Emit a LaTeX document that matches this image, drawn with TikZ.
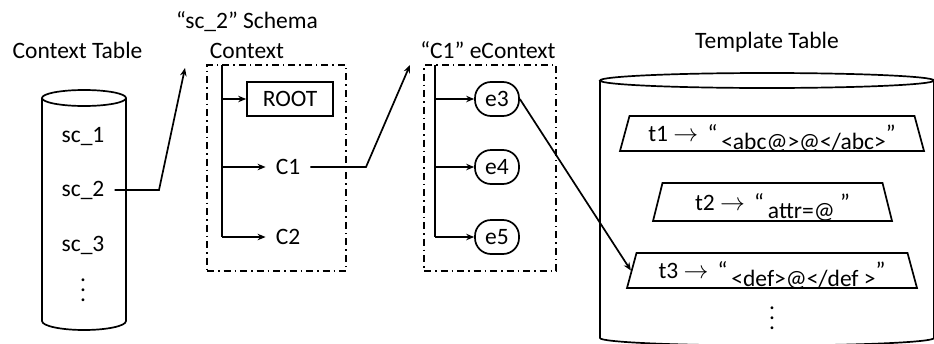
\documentclass[tikz,border=0pt]{standalone}
\usepackage{fontspec}
\setmainfont{Carlito}
\usetikzlibrary{arrows.meta,shapes.geometric}
\tikzset{
  >={Stealth[length=8pt,width=6.5pt]},
  every node/.style={font=\fontsize{23.5}{30}\selectfont},
  conn/.style={line width=1.7pt},
  tbl/.style={line width=1.7pt},
  frame/.style={draw,line width=1.4pt,dash pattern=on 7pt off 4pt on 1.5pt off 4pt,inner sep=0pt},
  item/.style={inner xsep=10pt,inner ysep=2pt},
  vdot/.style={align=center,font=\fontsize{23.5}{10}\selectfont},
  rootbox/.style={draw,line width=1.7pt,minimum width=86pt,minimum height=34pt,inner sep=0pt},
  ent/.style={draw,line width=1.7pt,rounded corners=16pt,minimum width=44pt,minimum height=34pt,inner sep=0pt},
  tpl/.style={draw,line width=1.7pt,trapezium,trapezium angle=61,trapezium stretches body,inner xsep=2pt,inner ysep=0pt},
}
\begin{document}
\begin{tikzpicture}[x=1pt,y=1pt]
  \useasboundingbox (0,0) rectangle (934,-343);
  % context table
  \draw[tbl] (84,-98) ellipse[x radius=42,y radius=8];
  \draw[tbl] (42,-98) -- (42,-321) arc[start angle=180,end angle=360,x radius=42,y radius=9] -- (126,-98);
  \node (ctxtitle) at (77.5,-50) {Context Table};
  \node[item] (sc1) at (83,-137) {sc\_1};
  \node[item] (sc2) at (83,-190) {sc\_2};
  \node[item] (sc3) at (83,-245) {sc\_3};
  \node[vdot] (cdots) at (83,-290) {.\\.\\.};
  % schema context
  \node[align=center] (schtitle) at (247,-35) {“sc\_2” Schema\\Context};
  \node[frame,minimum width=139pt,minimum height=206pt] (schbox) at (276.5,-168) {};
  \coordinate (strunk) at (222,-65);
  \node[rootbox] (root) at (290,-99) {ROOT};
  \node[item] (c1) at (288,-167) {C1};
  \node[item] (c2) at (288,-237) {C2};
  \draw[conn] (strunk) -- (strunk |- c2);
  \foreach \n in {root,c1,c2}{\draw[conn,->] (strunk |- \n) -- (\n.west);}
  \coordinate (sc2bend) at (159,-190);
  \coordinate (schtip) at (185,-68);
  \draw[conn,->] (sc2.east) -- (sc2bend) -- (schtip);
  % econtext
  \node (ectitle) at (488,-50) {“C1” eContext};
  \node[frame,minimum width=132pt,minimum height=206pt] (ecbox) at (490,-168) {};
  \coordinate (etrunk) at (435,-65);
  \foreach \e/\y in {e3/99,e4/167,e5/237}{\node[ent] (\e) at (497,-\y) {\e};}
  \draw[conn] (etrunk) -- (etrunk |- e5);
  \foreach \e in {e3,e4,e5}{\draw[conn,->] (etrunk |- \e) -- (\e.west);}
  \coordinate (c1bend) at (366,-167);
  \coordinate (ectip) at (410,-65);
  \draw[conn,->] (c1.east) -- (c1bend) -- (ectip);
  % template table
  \draw[tbl] (767,-80.5) ellipse[x radius=167,y radius=7.5];
  \draw[tbl] (600,-80.5) -- (600,-338) arc[start angle=180,end angle=360,x radius=167,y radius=7.5] -- (934,-80.5);
  \node (tpltitle) at (767,-42) {Template Table};
  \node[tpl,minimum width=304pt,minimum height=35pt] (t1) at (772,-133.5)
    {t1 $\rightarrow$ \,“\,\raisebox{-8pt}[0pt][0pt]{<abc@>@</abc>}”};
  \node[tpl,minimum width=239pt,minimum height=38pt] (t2) at (772.5,-202)
    {t2 $\rightarrow$ \,“\,\raisebox{-8pt}[0pt][0pt]{attr=@} ”};
  \node[tpl,minimum width=290pt,minimum height=35pt] (t3) at (772,-270.5)
    {t3 $\rightarrow$ \,“\,\raisebox{-8pt}[0pt][0pt]{<def>@</def >}”};
  \node[vdot] (tdots) at (772,-318) {.\\.\\.};
  \draw[conn,->] (e3.east) -- (t3.west);
\end{tikzpicture}
\end{document}
